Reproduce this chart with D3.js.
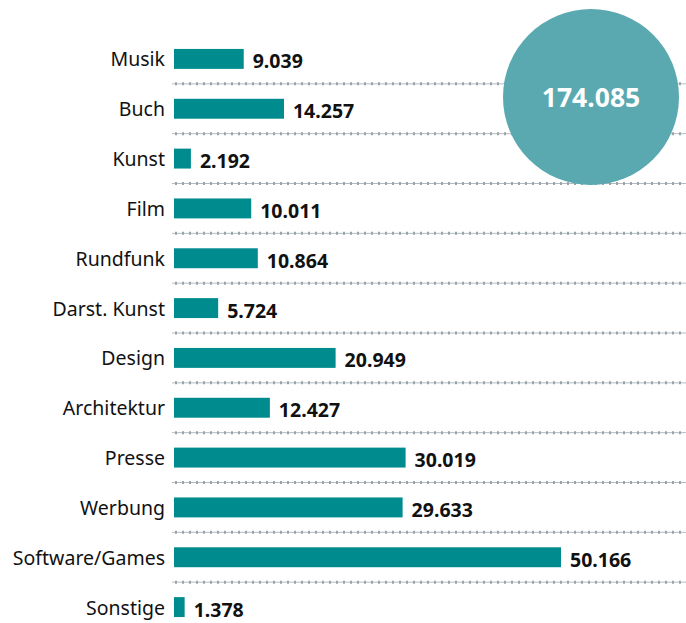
<!DOCTYPE html>
<html><head><meta charset="utf-8">
<script src="https://cdn.jsdelivr.net/npm/d3@7"></script>
<style>body{margin:0;background:#fff}svg{display:block}</style>
</head><body>
<svg id="c" width="686" height="623"></svg>
<script>
const categories = ["Musik","Buch","Kunst","Film","Rundfunk","Darst. Kunst","Design","Architektur","Presse","Werbung","Software/Games","Sonstige"];
const values = [9.039,14.257,2.192,10.011,10.864,5.724,20.949,12.427,30.019,29.633,50.166,1.378];
const totalLabel = "174.085";

const svg = d3.select("#c");
const font = "'Noto Sans', 'Open Sans', sans-serif";
const x = d3.scaleLinear().domain([0, 50.166]).range([174, 561]);
const y = d3.scaleBand().domain(categories).range([34, 632]).paddingInner(0.6).paddingOuter(0.3);
const step = y.step();
const fmt = v => v.toFixed(3);

// separators
const seps = categories.slice(0, -1);
const g = svg.append("g");
seps.forEach(c => {
  const yy = y(c) + y.bandwidth() / 2 + step / 2;
  g.append("line").attr("x1", 172).attr("x2", 686).attr("y1", yy).attr("y2", yy)
    .attr("stroke", "#b4bcc2").attr("stroke-width", 1);
  g.append("line").attr("x1", 175).attr("x2", 686).attr("y1", yy).attr("y2", yy)
    .attr("stroke", "#9aa4ab").attr("stroke-width", 3).attr("stroke-dasharray", "2,5");
});

// circle
svg.append("circle").attr("cx", 591).attr("cy", 97).attr("r", 88).attr("fill", "#5aa9b0");
svg.append("text").attr("x", 591).attr("y", 97).attr("text-anchor", "middle")
  .attr("dominant-baseline", "central").attr("fill", "#fff")
  .attr("font-family", font).attr("font-weight", "bold").attr("font-size", 26.5)
  .text(totalLabel);

// bars
svg.selectAll("rect.bar").data(categories).join("rect").attr("class", "bar")
  .attr("x", x(0)).attr("y", c => y(c))
  .attr("width", (c, i) => x(values[i]) - x(0)).attr("height", y.bandwidth())
  .attr("fill", "#008b8f");

svg.selectAll("text.cat").data(categories).join("text").attr("class", "cat")
  .attr("x", 165).attr("y", c => y(c) + y.bandwidth() / 2)
  .attr("text-anchor", "end").attr("dominant-baseline", "central")
  .attr("font-family", font).attr("font-size", 19.5).attr("fill", "#111")
  .text(c => c);

svg.selectAll("text.val").data(categories).join("text").attr("class", "val")
  .attr("x", (c, i) => x(values[i]) + 9).attr("y", c => y(c) + y.bandwidth() / 2 + 2)
  .attr("dominant-baseline", "central")
  .attr("font-family", font).attr("font-size", 19.5).attr("font-weight", "bold").attr("fill", "#111")
  .text((c, i) => fmt(values[i]));
</script>
</body></html>
